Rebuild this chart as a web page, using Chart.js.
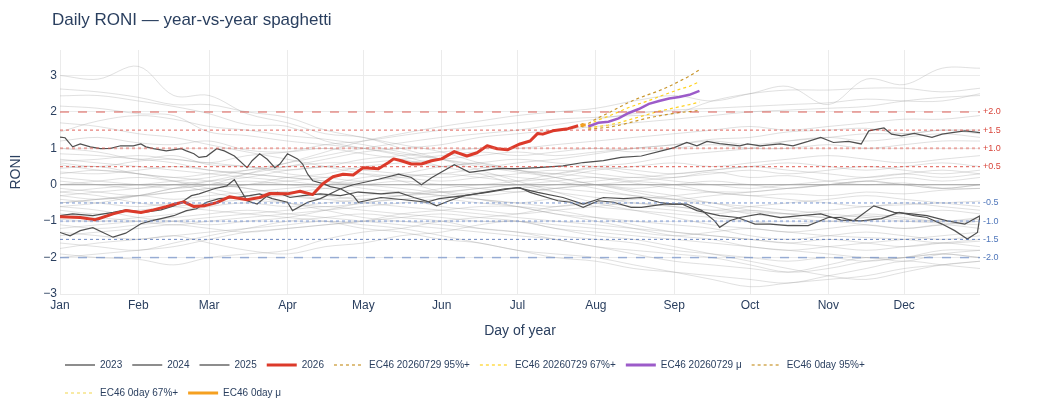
<!DOCTYPE html>
<html>
<head>
<meta charset="utf-8">
<title>Daily RONI</title>
<script src="https://cdn.jsdelivr.net/npm/chart.js"></script>
<style>
  html, body { margin: 0; padding: 0; background: #fff; }
  #wrap { width: 1040px; height: 420px; }
</style>
</head>
<body>
<div id="wrap"><canvas id="chart" width="1040" height="420"></canvas></div>
<script>
// axis ticks
const monthStarts = [1, 32, 60, 91, 121, 152, 182, 213, 244, 274, 305, 335];
const monthLabels = ["Jan", "Feb", "Mar", "Apr", "May", "Jun", "Jul", "Aug", "Sep", "Oct", "Nov", "Dec"];
const yTickValues = [-3, -2, -1, 0, 1, 2, 3];

// threshold lines on the right
const refLevels = [2, 1.5, 1, 0.5, -0.5, -1, -1.5, -2];
const refLabels = ["+2.0", "+1.5", "+1.0", "+0.5", "-0.5", "-1.0", "-1.5", "-2.0"];

// older years (grey spaghetti), sampled on these days
const histDays = [1, 16, 32, 46, 60, 75, 91, 106, 121, 136, 152, 167, 182, 197, 213, 228, 244, 259, 274, 289, 305, 320, 335, 350, 365];
const histYears = [
  [3.0, 2.9, 3.25, 2.45, 2.45, 1.95, 1.7, 1.4, 1.3, 1.0, 0.7, 0.4, 0.1, -0.2, -0.5, -0.7, -0.9, -1.1, -1.2, -1.3, -1.4, -1.45, -1.5, -1.6, -1.55],
  [2.63, 2.55, 2.4, 2.2, 2.2, 2.0, 1.85, 1.5, 1.3, 1.1, 0.9, 0.6, 0.4, 0.2, 0.0, -0.2, -0.4, -0.5, -0.7, -0.8, -0.9, -0.85, -0.95, -1.0, -0.95],
  [2.44, 2.45, 2.3, 2.15, 1.95, 1.65, 1.6, 1.2, 1.0, 0.8, 0.5, 0.3, 0.0, -0.2, -0.35, -0.5, -0.6, -0.7, -0.75, -0.8, -0.7, -0.6, -0.55, -0.5, -0.45],
  [2.16, 2.1, 1.95, 1.9, 1.45, 1.35, 1.2, 1.1, 1.0, 0.85, 0.7, 0.55, 0.4, 0.3, 0.2, 0.05, -0.1, -0.2, -0.3, -0.25, -0.3, -0.2, -0.25, -0.15, -0.1],
  [1.45, 1.75, 1.9, 1.8, 1.6, 1.5, 1.35, 1.25, 1.1, 0.9, 0.7, 0.5, 0.35, 0.2, 0.0, -0.15, -0.3, -0.5, -0.6, -0.7, -0.8, -0.9, -1.0, -1.05, -1.1],
  [1.2, 1.3, 1.15, 1.1, 1.2, 0.95, 0.9, 1.0, 0.85, 0.7, 0.5, 0.6, 0.4, 0.3, 0.45, 0.3, 0.2, 0.35, 0.2, 0.25, 0.1, 0.0, 0.05, -0.1, -0.1],
  [1.0, 0.9, 0.7, 0.8, 0.55, 0.5, 0.3, 0.2, 0.1, 0.25, 0.3, 0.45, 0.6, 0.7, 0.85, 1.0, 1.1, 1.25, 1.3, 1.45, 1.5, 1.55, 1.4, 1.5, 1.4],
  [-0.5, -0.4, -0.3, -0.1, 0.0, 0.3, 0.6, 0.9, 1.2, 1.4, 1.6, 1.75, 1.9, 2.0, 2.1, 2.3, 2.45, 2.3, 2.5, 2.7, 2.2, 2.9, 2.75, 3.2, 3.2],
  [0.6, 0.5, 0.65, 0.7, 0.6, 0.8, 0.9, 1.1, 1.2, 1.35, 1.5, 1.6, 1.7, 1.8, 1.85, 1.9, 1.95, 2.3, 2.5, 2.6, 2.6, 2.65, 2.65, 2.55, 2.65],
  [-0.2, -0.1, 0.0, 0.1, 0.2, 0.4, 0.6, 0.8, 1.0, 1.15, 1.3, 1.4, 1.5, 1.65, 1.8, 1.95, 2.05, 2.1, 2.15, 2.2, 2.25, 2.35, 2.3, 2.3, 2.5],
  [-0.6, -0.5, -0.3, -0.1, 0.1, 0.3, 0.5, 0.7, 0.9, 1.0, 1.1, 1.3, 1.4, 1.5, 1.6, 1.7, 1.8, 1.9, 2.0, 2.05, 2.1, 2.15, 2.3, 2.4, 2.45],
  [0.1, 0.0, -0.1, 0.0, 0.1, 0.2, 0.4, 0.5, 0.7, 0.8, 0.9, 1.0, 1.0, 1.1, 1.2, 1.3, 1.4, 1.5, 1.6, 1.5, 1.6, 1.7, 1.8, 1.8, 1.9],
  [-0.3, -0.4, -0.3, -0.2, -0.1, 0.0, 0.2, 0.3, 0.5, 0.6, 0.7, 0.8, 0.9, 0.8, 0.9, 1.0, 1.1, 1.2, 1.1, 1.2, 1.3, 1.4, 1.4, 1.5, 1.5],
  [0.3, 0.4, 0.3, 0.2, 0.3, 0.4, 0.5, 0.6, 0.6, 0.7, 0.8, 0.9, 0.8, 0.9, 1.0, 0.9, 1.0, 1.1, 1.0, 1.0, 1.1, 1.0, 1.1, 1.2, 1.2],
  [0.7, 0.6, 0.5, 0.4, 0.3, 0.2, 0.1, 0.0, 0.1, 0.2, 0.3, 0.2, 0.1, 0.2, 0.4, 0.5, 0.6, 0.5, 0.6, 0.7, 0.8, 0.7, 0.6, 0.7, 0.8],
  [0.45, 0.5, 0.3, 0.2, 0.1, -0.1, -0.2, -0.1, 0.0, 0.1, 0.0, -0.1, -0.2, -0.1, 0.0, 0.1, 0.2, 0.3, 0.4, 0.3, 0.4, 0.5, 0.4, 0.3, 0.4],
  [0.2, 0.1, 0.0, -0.1, 0.0, 0.1, 0.0, -0.1, -0.2, -0.3, -0.2, -0.1, 0.0, -0.1, -0.2, -0.3, -0.4, -0.3, -0.2, -0.1, 0.0, 0.1, 0.2, 0.1, 0.2],
  [0.0, 0.1, 0.2, 0.1, 0.0, -0.1, -0.3, -0.4, -0.3, -0.2, -0.3, -0.4, -0.5, -0.6, -0.5, -0.6, -0.7, -0.8, -0.7, -0.8, -0.9, -0.8, -0.9, -1.0, -0.9],
  [-0.1, -0.2, -0.3, -0.2, -0.1, 0.0, 0.1, 0.2, 0.3, 0.2, 0.1, 0.2, 0.3, 0.4, 0.3, 0.2, 0.3, 0.4, 0.5, 0.6, 0.5, 0.4, 0.5, 0.6, 0.5],
  [-0.4, -0.5, -0.6, -0.5, -0.4, -0.3, -0.2, -0.3, -0.4, -0.3, -0.2, -0.3, -0.2, -0.1, 0.0, -0.1, 0.0, 0.1, 0.0, -0.1, 0.0, 0.1, 0.0, -0.1, 0.0],
  [0.85, 0.8, 0.7, 0.6, 0.4, 0.3, 0.2, 0.1, -0.1, -0.2, -0.3, -0.4, -0.5, -0.4, -0.6, -0.7, -0.8, -0.9, -1.0, -1.1, -1.0, -1.1, -1.2, -1.1, -1.2],
  [-0.7, -0.8, -0.7, -0.6, -0.5, -0.4, -0.3, -0.4, -0.5, -0.6, -0.7, -0.8, -0.9, -1.0, -1.1, -1.2, -1.3, -1.4, -1.5, -1.6, -1.5, -1.6, -1.7, -1.6, -1.5],
  [-1.1, -1.2, -1.1, -1.0, -0.9, -0.8, -0.7, -0.6, -0.7, -0.8, -0.9, -1.0, -1.0, -1.1, -1.2, -1.3, -1.4, -1.3, -1.2, -1.3, -1.2, -1.1, -1.2, -1.1, -1.0],
  [-1.6, -1.7, -1.8, -1.6, -1.4, -1.2, -1.0, -0.9, -0.8, -0.9, -1.0, -1.2, -1.3, -1.4, -1.5, -1.6, -1.8, -1.9, -2.0, -2.1, -2.0, -2.1, -2.0, -1.9, -2.0],
  [-1.9, -2.0, -2.05, -2.2, -2.0, -1.9, -1.8, -1.5, -1.3, -1.2, -1.0, -0.9, -0.8, -0.6, -0.5, -0.4, -0.3, -0.2, -0.2, -0.1, 0.0, 0.1, 0.0, -0.1, 0.0],
  [-2.0, -1.9, -1.8, -1.7, -1.5, -1.3, -1.2, -1.1, -1.0, -0.8, -0.7, -0.6, -0.6, -0.7, -0.9, -1.1, -1.3, -1.4, -1.5, -1.6, -1.7, -1.8, -1.7, -1.6, -1.7],
  [-1.75, -1.6, -1.5, -1.4, -1.3, -1.2, -1.1, -1.0, -1.1, -1.2, -1.4, -1.6, -1.8, -2.0, -2.1, -2.3, -2.4, -2.5, -2.6, -2.7, -2.5, -2.3, -2.1, -2.2, -2.3],
  [-1.4, -1.3, -1.2, -1.1, -1.2, -1.3, -1.2, -1.1, -1.0, -0.9, -0.8, -0.9, -1.0, -1.2, -1.4, -1.5, -1.7, -1.9, -2.1, -2.3, -2.5, -2.6, -2.4, -2.2, -2.1],
  [-1.2, -1.1, -1.0, -0.9, -0.8, -0.7, -0.8, -0.9, -1.0, -1.1, -1.2, -1.3, -1.4, -1.5, -1.7, -1.8, -1.9, -2.0, -2.2, -2.4, -2.3, -2.1, -2.0, -1.8, -1.8],
  [-0.8, -0.9, -1.0, -1.1, -1.0, -0.9, -0.8, -0.7, -0.6, -0.5, -0.4, -0.5, -0.6, -0.8, -0.9, -1.0, -1.1, -1.2, -1.4, -1.5, -1.4, -1.3, -1.4, -1.5, -1.4],
  [-0.6, -0.7, -0.9, -1.0, -1.1, -1.0, -0.9, -0.7, -0.5, -0.4, -0.3, -0.2, -0.1, 0.0, 0.1, 0.2, 0.1, 0.0, -0.1, 0.0, 0.1, 0.2, 0.3, 0.2, 0.3],
  [-0.95, -1.0, -0.9, -0.8, -0.6, -0.5, -0.6, -0.5, -0.4, -0.3, -0.1, 0.0, 0.1, 0.3, 0.5, 0.6, 0.8, 0.9, 1.0, 1.2, 1.3, 1.2, 1.3, 1.4, 1.3],
  [-1.3, -1.4, -1.5, -1.4, -1.6, -1.8, -1.9, -1.7, -1.6, -1.4, -1.3, -1.1, -1.0, -1.2, -1.3, -1.4, -1.5, -1.6, -1.7, -1.8, -1.7, -1.6, -1.5, -1.4, -1.3],
  [0.55, 0.4, 0.3, 0.1, -0.1, -0.3, -0.5, -0.7, -0.9, -1.0, -1.1, -1.2, -1.3, -1.5, -1.7, -1.9, -2.1, -2.2, -2.3, -2.4, -2.2, -2.0, -2.1, -1.9, -1.8],
  [1.7, 1.6, 1.4, 1.3, 1.1, 0.9, 0.7, 0.5, 0.3, 0.1, -0.2, -0.4, -0.6, -0.8, -1.0, -1.2, -1.4, -1.5, -1.7, -1.8, -1.9, -2.0, -2.0, -1.9, -2.0],
  [-0.2, -0.3, -0.5, -0.6, -0.7, -0.8, -0.9, -1.0, -1.2, -1.3, -1.5, -1.6, -1.8, -1.9, -2.0, -2.2, -2.4, -2.6, -2.8, -2.7, -2.6, -2.5, -2.3, -2.2, -2.1],
  [0.35, 0.3, 0.4, 0.5, 0.4, 0.3, 0.2, 0.1, 0.0, -0.1, -0.2, -0.1, 0.0, 0.1, 0.2, 0.1, 0.0, -0.2, -0.3, -0.4, -0.5, -0.6, -0.5, -0.6, -0.7],
  [-0.5, -0.4, -0.3, -0.4, -0.3, -0.2, -0.1, 0.0, 0.2, 0.3, 0.5, 0.6, 0.7, 0.6, 0.5, 0.4, 0.3, 0.4, 0.5, 0.4, 0.3, 0.2, 0.3, 0.4, 0.3],
  [0.65, 0.7, 0.8, 0.7, 0.6, 0.5, 0.4, 0.5, 0.4, 0.3, 0.2, 0.3, 0.2, 0.1, -0.1, -0.3, -0.4, -0.6, -0.8, -0.9, -1.0, -0.9, -0.8, -0.7, -0.8],
  [-0.3, -0.2, -0.1, 0.0, -0.2, -0.4, -0.5, -0.6, -0.5, -0.4, -0.6, -0.7, -0.8, -0.7, -0.6, -0.5, -0.6, -0.7, -0.6, -0.5, -0.4, -0.3, -0.4, -0.5, -0.6]
];

// recent years
const days2023 = [1, 5, 9, 14, 18, 22, 27, 33, 37, 41, 46, 51, 55, 59, 64, 71, 76, 80, 85, 91, 93, 99, 104, 112, 117, 127, 135, 140, 144, 148, 157, 163, 174, 182, 190, 200, 208, 216, 223, 231, 239, 244, 249, 253, 257, 262, 270, 273, 278, 286, 291, 297, 302, 307, 313, 318, 321, 327, 330, 334, 339, 346, 350, 354, 359, 365];
const roni2023 = [-1.31, -1.40, -1.26, -1.18, -1.31, -1.44, -1.33, -1.07, -0.99, -0.93, -0.85, -0.71, -0.66, -0.48, -0.38, -0.35, -0.30, -0.25, -0.38, -0.48, -0.71, -0.48, -0.38, -0.11, 0.0, 0.15, 0.29, 0.20, 0.0, 0.19, 0.55, 0.34, 0.44, 0.44, 0.47, 0.52, 0.61, 0.66, 0.75, 0.79, 0.93, 1.02, 1.16, 1.07, 1.19, 1.13, 1.07, 1.12, 1.07, 1.12, 1.07, 1.19, 1.30, 1.16, 1.19, 1.12, 1.48, 1.56, 1.39, 1.34, 1.41, 1.30, 1.39, 1.43, 1.48, 1.43];

const days2024 = [1, 3, 6, 9, 13, 17, 21, 25, 30, 33, 35, 38, 43, 49, 51, 54, 56, 59, 63, 66, 70, 75, 77, 80, 83, 86, 88, 91, 95, 97, 99, 101, 105, 108, 112, 117, 119, 128, 141, 146, 151, 161, 170, 179, 182, 190, 200, 208, 216, 224, 231, 238, 243, 249, 255, 260, 262, 266, 270, 278, 286, 294, 302, 310, 318, 326, 333, 339, 344, 350, 355, 360, 364, 365];
const roni2024 = [1.31, 1.29, 1.04, 1.12, 1.04, 0.99, 1.0, 1.07, 1.07, 1.12, 1.04, 0.99, 0.93, 0.99, 0.93, 0.85, 0.75, 0.78, 0.99, 0.93, 0.79, 0.47, 0.66, 0.85, 0.7, 0.47, 0.57, 0.85, 0.71, 0.57, 0.29, 0.11, 0.03, -0.05, -0.11, -0.3, -0.48, -0.35, -0.44, -0.48, -0.38, -0.3, -0.21, -0.11, -0.08, -0.21, -0.35, -0.53, -0.35, -0.38, -0.35, -0.48, -0.53, -0.53, -0.71, -0.99, -1.17, -0.99, -0.9, -0.8, -0.9, -0.85, -0.8, -0.97, -0.99, -0.93, -0.76, -0.85, -0.9, -1.08, -1.26, -1.49, -1.31, -0.85];

const days2025 = [1, 6, 14, 22, 27, 34, 41, 46, 50, 53, 56, 62, 67, 70, 75, 79, 83, 87, 92, 97, 104, 112, 119, 128, 135, 141, 146, 150, 155, 161, 169, 177, 183, 187, 198, 203, 208, 214, 220, 227, 231, 240, 247, 253, 262, 269, 276, 282, 289, 297, 305, 310, 315, 323, 331, 338, 344, 352, 359, 365];
const roni2025 = [-0.85, -0.80, -0.85, -0.76, -0.69, -0.76, -0.69, -0.58, -0.44, -0.30, -0.25, -0.11, -0.03, 0.14, -0.44, -0.53, -0.30, -0.21, -0.35, -0.30, -0.25, -0.30, -0.20, -0.25, -0.21, -0.35, -0.45, -0.58, -0.44, -0.30, -0.21, -0.11, -0.08, -0.21, -0.44, -0.48, -0.62, -0.44, -0.48, -0.62, -0.62, -0.53, -0.53, -0.71, -0.85, -0.90, -1.08, -1.08, -1.12, -1.12, -0.90, -0.90, -0.99, -0.58, -0.76, -0.80, -0.85, -0.99, -1.08, -0.85];

const days2026 = [1, 9, 15, 22, 27, 33, 38, 43, 47, 50, 54, 58, 63, 68, 75, 80, 84, 91, 96, 101, 105, 109, 113, 117, 121, 127, 131, 133, 136, 140, 144, 148, 152, 157, 162, 166, 170, 174, 178, 183, 187, 190, 192, 196, 202, 206];
const roni2026 = [-0.88, -0.90, -0.96, -0.80, -0.71, -0.76, -0.69, -0.60, -0.52, -0.47, -0.60, -0.58, -0.49, -0.33, -0.41, -0.35, -0.24, -0.25, -0.18, -0.27, 0.03, 0.22, 0.29, 0.27, 0.47, 0.44, 0.61, 0.71, 0.66, 0.57, 0.57, 0.66, 0.71, 0.91, 0.79, 0.88, 1.07, 0.99, 0.96, 1.12, 1.20, 1.41, 1.39, 1.48, 1.54, 1.62];

// EC46 forecast issued 2026-07-29
const fcDays = [210, 214, 218, 222, 226, 230, 234, 238, 242, 246, 250, 254];
const fcMean = [1.60, 1.70, 1.73, 1.82, 1.97, 2.08, 2.22, 2.30, 2.37, 2.41, 2.47, 2.58];
const fc67Hi = [1.64, 1.78, 1.88, 2.00, 2.12, 2.22, 2.31, 2.42, 2.52, 2.62, 2.70, 2.83];
const fc67Lo = [1.56, 1.60, 1.64, 1.70, 1.78, 1.86, 1.94, 2.02, 2.08, 2.14, 2.20, 2.27];
const fc95Hi = [1.68, 1.84, 1.97, 2.12, 2.26, 2.38, 2.48, 2.58, 2.70, 2.84, 2.98, 3.16];
const fc95Lo = [1.53, 1.55, 1.58, 1.63, 1.70, 1.77, 1.84, 1.89, 1.94, 1.98, 2.01, 2.04];

// EC46 0-day
const zeroDays = [207, 208, 209];
const zeroMean = [1.63, 1.64, 1.64];
const zero67Hi = [1.64, 1.66, 1.68];
const zero67Lo = [1.62, 1.61, 1.60];
const zero95Hi = [1.65, 1.68, 1.71];
const zero95Lo = [1.61, 1.59, 1.57];

const FONT = '"Liberation Sans", Arial, sans-serif';
const INK = "#2a3f5f";
const DARK = "#505050";
const RED = "#dc3a2a";
const GOLD_DARK = "#c9962c";
const GOLD = "#ffd21f";
const PURPLE = "#9c5bc9";
const PALE = "#f3dd6a";
const ORANGE = "#f5a020";

function pts(xs, ys) {
  return xs.map((x, i) => ({ x: x, y: ys[i] }));
}

function line(data, color, width, extra) {
  return Object.assign({
    data: data,
    borderColor: color,
    borderWidth: width,
    pointRadius: 0,
    tension: 0,
    fill: false
  }, extra || {});
}

const datasets = [];
histYears.forEach(vals => {
  datasets.push(line(pts(histDays, vals), "rgba(160,160,160,0.32)", 1, { tension: 0.35, order: 10 }));
});
datasets.push(line(pts(days2023, roni2023), DARK, 1.2, { order: 5 }));
datasets.push(line(pts(days2024, roni2024), DARK, 1.2, { order: 5 }));
datasets.push(line(pts(days2025, roni2025), DARK, 1.2, { order: 5 }));
datasets.push(line(pts(days2026, roni2026), RED, 3, { order: 2, borderJoinStyle: "round" }));
datasets.push(line(pts(fcDays, fc95Hi), GOLD_DARK, 1.2, { borderDash: [3, 3], order: 1 }));
datasets.push(line(pts(fcDays, fc95Lo), GOLD_DARK, 1.2, { borderDash: [3, 3], order: 1 }));
datasets.push(line(pts(fcDays, fc67Hi), GOLD, 1.2, { borderDash: [3, 3], order: 1 }));
datasets.push(line(pts(fcDays, fc67Lo), GOLD, 1.2, { borderDash: [3, 3], order: 1 }));
datasets.push(line(pts(fcDays, fcMean), PURPLE, 2.5, { order: 0 }));
datasets.push(line(pts(zeroDays, zero95Hi), GOLD_DARK, 1.2, { borderDash: [3, 3], order: 1 }));
datasets.push(line(pts(zeroDays, zero95Lo), GOLD_DARK, 1.2, { borderDash: [3, 3], order: 1 }));
datasets.push(line(pts(zeroDays, zero67Hi), PALE, 1.2, { borderDash: [3, 3], order: 1 }));
datasets.push(line(pts(zeroDays, zero67Lo), PALE, 1.2, { borderDash: [3, 3], order: 1 }));
datasets.push(line(pts(zeroDays, zeroMean), ORANGE, 3, { order: 0 }));

const legendItems = [
  { label: "2023", color: DARK, width: 1.3, dash: [] },
  { label: "2024", color: DARK, width: 1.3, dash: [] },
  { label: "2025", color: DARK, width: 1.3, dash: [] },
  { label: "2026", color: RED, width: 3, dash: [] },
  { label: "EC46 20260729 95%+", color: GOLD_DARK, width: 1.2, dash: [3, 3] },
  { label: "EC46 20260729 67%+", color: GOLD, width: 1.2, dash: [3, 3] },
  { label: "EC46 20260729 \u03bc", color: PURPLE, width: 3, dash: [] },
  { label: "EC46 0day 95%+", color: GOLD_DARK, width: 1.2, dash: [3, 3] },
  { label: "EC46 0day 67%+", color: PALE, width: 1.2, dash: [3, 3] },
  { label: "EC46 0day \u03bc", color: ORANGE, width: 3, dash: [] }
];

function refStyle(v) {
  const pos = v > 0;
  const a = Math.abs(v);
  if (a === 2) return { color: pos ? "rgba(214,60,50,0.55)" : "rgba(95,130,195,0.6)", width: 1.5, dash: [9, 9] };
  if (a === 1.5) return { color: pos ? "rgba(214,50,40,0.75)" : "rgba(70,105,175,0.8)", width: 1, dash: [3, 3] };
  if (a === 1) return { color: pos ? "rgba(228,100,90,0.5)" : "rgba(120,150,210,0.55)", width: 2, dash: [3, 3] };
  return { color: pos ? "rgba(220,65,55,0.7)" : "rgba(105,140,205,0.7)", width: 1.3, dash: [3, 3] };
}

const decor = {
  id: "decor",
  beforeDatasetsDraw(chart) {
    const { ctx, chartArea: a, scales } = chart;
    const py = scales.y.getPixelForValue(0);
    ctx.save();
    ctx.strokeStyle = "rgba(140,140,140,0.8)";
    ctx.lineWidth = 1.2;
    ctx.beginPath();
    ctx.moveTo(a.left, py);
    ctx.lineTo(a.right, py);
    ctx.stroke();
    ctx.restore();
  },
  afterDatasetsDraw(chart) {
    const { ctx, chartArea: a, scales } = chart;
    ctx.save();
    refLevels.forEach((lvl, i) => {
      const py = scales.y.getPixelForValue(lvl);
      const st = refStyle(lvl);
      ctx.strokeStyle = st.color;
      ctx.lineWidth = st.width;
      ctx.setLineDash(st.dash);
      ctx.beginPath();
      ctx.moveTo(a.left, py);
      ctx.lineTo(a.right, py);
      ctx.stroke();
      ctx.setLineDash([]);
      ctx.font = "9px " + FONT;
      ctx.textAlign = "left";
      ctx.textBaseline = "middle";
      ctx.fillStyle = lvl > 0 ? "#d9463c" : "#4f76ba";
      ctx.fillText(refLabels[i], a.right + 3, py);
    });
    ctx.restore();
  },
  afterDraw(chart) {
    const { ctx, chartArea: a } = chart;
    ctx.save();
    ctx.fillStyle = INK;
    ctx.textBaseline = "middle";
    ctx.font = "17px " + FONT;
    ctx.textAlign = "left";
    ctx.fillText("Daily RONI \u2014 year-vs-year spaghetti", 52, 20);

    ctx.font = "14px " + FONT;
    ctx.textAlign = "center";
    ctx.fillText("Day of year", (a.left + a.right) / 2, a.bottom + 37);
    ctx.save();
    ctx.translate(16, (a.top + a.bottom) / 2);
    ctx.rotate(-Math.PI / 2);
    ctx.fillText("RONI", 0, 0);
    ctx.restore();

    // legend, plotly-like horizontal rows
    ctx.font = "10px " + FONT;
    let x = a.left;
    let y = a.bottom + 71;
    legendItems.forEach(item => {
      const tw = ctx.measureText(item.label).width;
      const w = 40 + tw + 5;
      if (x + w > a.right && x > a.left) {
        x = a.left;
        y += 28;
      }
      ctx.strokeStyle = item.color;
      ctx.lineWidth = item.width;
      ctx.setLineDash(item.dash);
      ctx.beginPath();
      ctx.moveTo(x + 5, y);
      ctx.lineTo(x + 35, y);
      ctx.stroke();
      ctx.setLineDash([]);
      ctx.fillStyle = INK;
      ctx.textAlign = "left";
      ctx.fillText(item.label, x + 40, y);
      x += w;
    });
    ctx.restore();
  }
};

function fmtY(v) {
  return v < 0 ? "\u2212" + Math.abs(v) : String(v);
}

new Chart(document.getElementById("chart").getContext("2d"), {
  type: "line",
  data: { datasets: datasets },
  options: {
    responsive: false,
    animation: false,
    events: [],
    layout: { padding: { left: 0, top: 50, right: 60, bottom: 96 } },
    plugins: {
      legend: { display: false },
      title: { display: false },
      tooltip: { enabled: false }
    },
    scales: {
      x: {
        type: "linear",
        min: 1,
        max: 365,
        afterBuildTicks: s => { s.ticks = monthStarts.map(v => ({ value: v })); },
        afterFit: s => { s.height = 30; },
        ticks: {
          callback: v => monthLabels[monthStarts.indexOf(v)],
          color: INK,
          font: { size: 12, family: FONT },
          padding: 4,
          maxRotation: 0,
          autoSkip: false
        },
        grid: { color: "#ebebeb", drawTicks: false },
        border: { display: false }
      },
      y: {
        min: -3,
        max: 3.7,
        afterBuildTicks: s => { s.ticks = yTickValues.map(v => ({ value: v })); },
        afterFit: s => { s.width = 60; },
        ticks: {
          callback: v => fmtY(v),
          color: INK,
          font: { size: 12, family: FONT },
          padding: 3
        },
        grid: { color: "#ebebeb", drawTicks: false },
        border: { display: false }
      }
    }
  },
  plugins: [decor]
});
</script>
</body>
</html>
